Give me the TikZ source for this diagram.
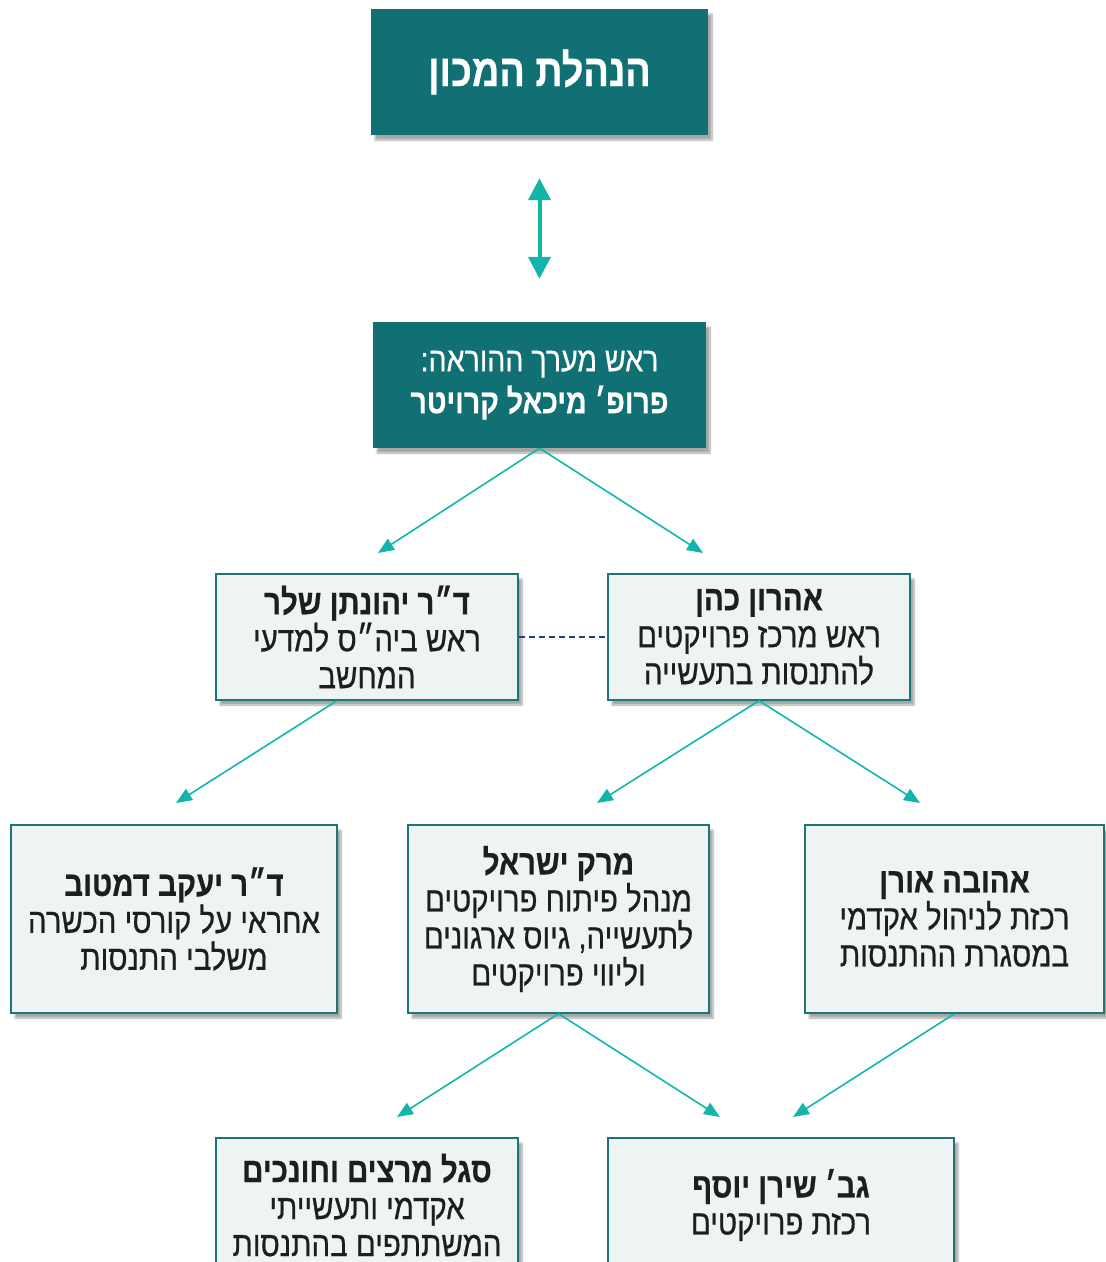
\documentclass[tikz,border=0pt]{standalone}
\usepackage{fontspec}
\newfontfamily\hebfont[Script=Hebrew,FakeStretch=0.84,FakeBold=0.6]{Liberation Sans}
\TeXXeTstate=1
\usepackage{xcolor}
\usepackage{tikz}
\usetikzlibrary{arrows.meta, shadows.blur, positioning, calc}

\definecolor{headteal}{RGB}{17,112,115}
\definecolor{arrowteal}{RGB}{19,181,170}
\definecolor{boxfill}{RGB}{238,244,244}
\definecolor{boxline}{RGB}{28,118,120}
\definecolor{dashnavy}{RGB}{40,60,140}
\definecolor{inktext}{RGB}{30,30,30}

\newcommand{\heb}[1]{\beginR #1\endR}

\tikzset{
  boxshadow/.style={blur shadow={shadow xshift=4pt, shadow yshift=-5pt, shadow blur steps=8, shadow opacity=35}},
  headbox/.style={fill=headteal, text=white, inner sep=0pt, align=center, boxshadow},
  staffbox/.style={fill=boxfill, draw=boxline, line width=1.3pt, text=inktext, inner sep=0pt, align=center,
    font=\hebfont\fontsize{35}{37}\selectfont, boxshadow},
  link/.style={draw=arrowteal, line width=1.6pt, -{Triangle[length=16pt,width=13pt]}},
  bothways/.style={draw=arrowteal, line width=4pt, {Triangle[length=22pt,width=22pt]}-{Triangle[length=22pt,width=22pt]}},
}

\begin{document}
\begin{tikzpicture}[x=1pt, y=-1pt]
\useasboundingbox (0,0) rectangle (1106,1262);
\clip (0,0) rectangle (1106,1262);

% management and head of teaching
\node[headbox, minimum width=337pt, minimum height=126pt, font=\hebfont\bfseries\fontsize{45}{48}\selectfont]
  (board) at (539.5,72) {\heb{הנהלת המכון}};
\node[headbox, minimum width=333pt, minimum height=126pt, font=\hebfont\fontsize{34}{42}\selectfont]
  (chair) at (539.5,385) {\heb{ראש מערך ההוראה:}\\\bfseries\heb{פרופ׳ מיכאל קרויטר}};

% second level
\node[staffbox, minimum width=302pt, minimum height=126pt] (school) at (367,637)
  {\bfseries\heb{ד״ר יהונתן שלר}\\\heb{ראש ביה״ס למדעי}\\\heb{המחשב}};
\node[staffbox, minimum width=302pt, minimum height=126pt] (center) at (759,637)
  {\bfseries\heb{אהרון כהן}\\\heb{ראש מרכז פרויקטים}\\\heb{להתנסות בתעשייה}};

% third level
\node[staffbox, minimum width=326pt, minimum height=188pt] (courses) at (174,919)
  {\bfseries\heb{ד״ר יעקב דמטוב}\\\heb{אחראי על קורסי הכשרה}\\\heb{משלבי התנסות}};
\node[staffbox, minimum width=301pt, minimum height=188pt] (develop) at (558.5,919)
  {\bfseries\heb{מרק ישראל}\\\heb{מנהל פיתוח פרויקטים}\\\heb{לתעשייה, גיוס ארגונים}\\\heb{וליווי פרויקטים}};
\node[staffbox, minimum width=299pt, minimum height=188pt] (academic) at (954.5,919)
  {\bfseries\heb{אהובה אורן}\\\heb{רכזת לניהול אקדמי}\\\heb{במסגרת ההתנסות}};

% bottom level
\node[staffbox, minimum width=302pt, minimum height=134pt] (mentors) at (367,1205)
  {\bfseries\heb{סגל מרצים וחונכים}\\\heb{אקדמי ותעשייתי}\\\heb{המשתתפים בהתנסות}};
\node[staffbox, minimum width=346pt, minimum height=134pt] (projects) at (781,1205)
  {\bfseries\heb{גב׳ שירן יוסף}\\\heb{רכזת פרויקטים}};

% free arrow ends
\coordinate (toSchool) at (378,553);
\coordinate (toCenter) at (703,553);
\coordinate (toCourses) at (176,803);
\coordinate (toDevelop) at (597,803);
\coordinate (toAcademic) at (920,803);
\coordinate (toMentors) at (397,1117);
\coordinate (toProjects) at (720,1117);
\coordinate (toProjectsB) at (793,1117);

\draw[bothways] ([yshift=-43pt]board.south) -- ([yshift=43pt]chair.north);

\draw[link] (chair.south) -- (toSchool);
\draw[link] (chair.south) -- (toCenter);
\draw[link] ([xshift=-30pt]school.south) -- (toCourses);
\draw[link] (center.south) -- (toDevelop);
\draw[link] (center.south) -- (toAcademic);
\draw[link] (develop.south) -- (toMentors);
\draw[link] (develop.south) -- (toProjects);
\draw[link] (academic.south) -- (toProjectsB);

\draw[dashnavy, line width=1.3pt, dash pattern=on 6pt off 4pt] (school.east) -- (center.west);
\end{tikzpicture}
\end{document}
